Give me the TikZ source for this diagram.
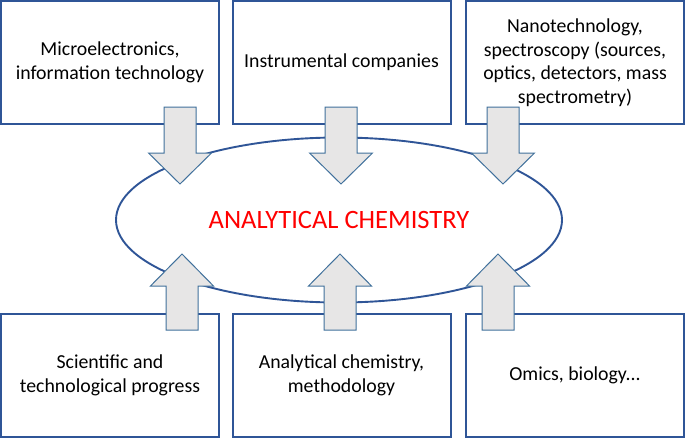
\documentclass[tikz,border=0pt]{standalone}
\usepackage{fontspec}
\setmainfont{Carlito}
\usetikzlibrary{shapes.geometric}
\definecolor{boxblue}{RGB}{47,85,151}
\definecolor{arrowblue}{RGB}{65,113,156}
\definecolor{arrowfill}{RGB}{231,230,230}

\tikzset{
  field/.style={draw=boxblue, line width=2pt, fill=white, minimum width=218pt, minimum height=123pt, align=center, font=\fontsize{19.8}{23.5}\selectfont},
  core/.style={ellipse, draw=boxblue, line width=1.9pt, minimum width=446pt, minimum height=165pt, inner sep=0pt, text=red, font=\fontsize{26.5}{30}\selectfont},
  blockarrow/.style={draw=arrowblue, line width=1pt, fill=arrowfill, line join=miter}
}

\begin{document}
\begin{tikzpicture}[x=1pt, y=-1pt]
  \useasboundingbox (0,0) rectangle (685,439);

  \node [field] (micro) at (110,62.5) {Microelectronics,\\information technology};
  \node [field] (instr) at (341.5,62.5) {Instrumental companies};
  \node [field] (nano) at (575,62.5) {Nanotechnology,\\spectroscopy (sources,\\optics, detectors, mass\\spectrometry)};

  \node [field] (progress) at (110,375.5) {Scientific and\\technological progress};
  \node [field] (method) at (341.5,375.5) {Analytical chemistry,\\methodology};
  \node [field] (omics) at (575,375.5) {Omics, biology...};

  \node [core] (chem) at (339,220) {ANALYTICAL CHEMISTRY};

  % arrows into the ellipse
  \foreach \x in {180,341,503}
    \draw [blockarrow] (\x-16,107) -- (\x+16,107) -- (\x+16,153) -- (\x+31.5,153)
      -- (\x,184) -- (\x-31.5,153) -- (\x-16,153) -- cycle;
  \foreach \x in {182,340,498}
    \draw [blockarrow] (\x-16,330) -- (\x+16,330) -- (\x+16,286) -- (\x+31.5,286)
      -- (\x,254) -- (\x-31.5,286) -- (\x-16,286) -- cycle;

\end{tikzpicture}
\end{document}
